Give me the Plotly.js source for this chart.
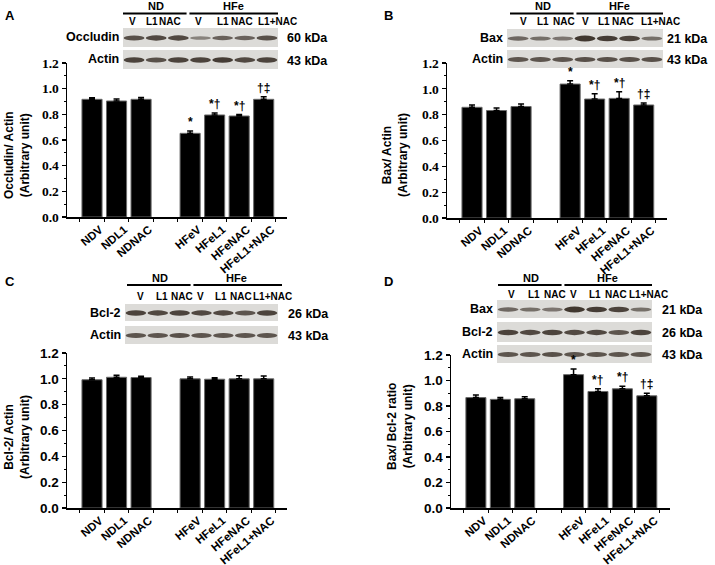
<!DOCTYPE html>
<html>
<head>
<meta charset="utf-8">
<script src="https://cdn.plot.ly/plotly-3.0.1.min.js"></script>
<style>html,body{margin:0;padding:0;background:#fff;}#chart{width:715px;height:565px;}</style>
</head>
<body>
<div id="chart"></div>
<script>
// ---------- data ----------
const categories = ['NDV','NDL1','NDNAC','HFeV','HFeL1','HFeNAC','HFeL1+NAC'];
const catPos = [0,1,2,4,5,6,7];
const laneLabels = ['V','L1','NAC','V','L1','NAC','L1+NAC'];

const occludinActin = [0.917,0.904,0.917,0.652,0.795,0.787,0.917];
const occludinErr   = [0.013,0.015,0.014,0.018,0.015,0.012,0.02];
const baxActin      = [0.857,0.832,0.863,1.037,0.921,0.926,0.875];
const baxErr        = [0.018,0.02,0.02,0.026,0.04,0.052,0.016];
const bcl2Actin     = [0.993,1.012,1.01,1.0,0.997,1.0,1.0];
const bcl2Err       = [0.014,0.016,0.01,0.014,0.012,0.024,0.022];
const baxBcl2Ratio  = [0.866,0.852,0.857,1.046,0.914,0.935,0.88];
const ratioErr      = [0.02,0.014,0.015,0.045,0.022,0.02,0.02];
const sigMarks      = ['','','','*','*†','*†','†‡'];
const noMarks       = ['','','','','','',''];

// band intensities of the blots (0..1)
const occludinBands = [0.75,0.8,0.8,0.35,0.6,0.6,0.75];
const actinBandsA   = [0.85,0.75,0.85,0.85,0.9,0.8,0.85];
const baxBands      = [0.55,0.5,0.45,0.95,0.9,0.85,0.5];
const actinBandsB   = [0.7,0.7,0.7,0.75,0.75,0.75,0.75];
const bcl2Bands     = [0.85,0.8,0.85,0.8,0.8,0.7,0.85];
const actinBandsC   = [0.7,0.7,0.75,0.7,0.7,0.7,0.7];

// ---------- helpers ----------
const W = 715, H = 565;
const px = x => x / W;
const py = y => 1 - y / H;
const SANS = "'Liberation Sans', Arial, sans-serif";
const SERIF = "'Liberation Serif', 'Times New Roman', serif";

const traces = [];
const annotations = [];
const shapes = [];
const layout = {
  width: W, height: H, margin: {l:0, r:0, t:0, b:0},
  paper_bgcolor: '#fff', plot_bgcolor: 'rgba(0,0,0,0)',
  showlegend: false, bargap: 0,
  annotations, shapes
};

function panel(idx, cfg) {
  const xa = idx === 1 ? 'xaxis' : 'xaxis' + idx;
  const ya = idx === 1 ? 'yaxis' : 'yaxis' + idx;
  const xr = idx === 1 ? 'x' : 'x' + idx;
  const yr = idx === 1 ? 'y' : 'y' + idx;
  traces.push({
    type: 'bar', x: catPos, y: cfg.values, xaxis: xr, yaxis: yr, width: 0.82,
    marker: {color: '#000', line: {color: '#6a6a6a', width: 1}},
    error_y: {type: 'data', symmetric: false, array: cfg.err, arrayminus: cfg.err.map(() => 0),
              color: '#000', thickness: 1.5, width: 3},
    hoverinfo: 'skip'
  });
  layout[xa] = {
    domain: [px(cfg.x0), px(cfg.x1)], anchor: yr, range: [-1.02, 7.95],
    showline: true, linecolor: '#000', linewidth: 1.5, showgrid: false, zeroline: false,
    tickvals: catPos, ticktext: categories, tickangle: -40, ticks: '',
    ticklabelshift: 8, ticklabelstandoff: 0,
    tickfont: {family: SANS, size: 11.5, color: '#000', weight: 'bold'},
    minor: {tickvals: [-0.5,0.5,1.5,2.5,3.5,4.5,5.5,6.5,7.5], ticks: 'outside', ticklen: 3, tickcolor: '#000', tickwidth: 1}
  };
  layout[ya] = {
    domain: [py(cfg.yBottom), py(cfg.yTop)], anchor: xr, range: [0, 1.2],
    showline: true, linecolor: '#000', linewidth: 1.5, showgrid: false, zeroline: false,
    tickvals: [0,0.2,0.4,0.6,0.8,1.0,1.2], tickformat: '.1f',
    ticks: 'outside', ticklen: 4, tickwidth: 1.2, tickcolor: '#000',
    tickfont: {family: cfg.tickFamily, size: 13.5, color: '#000', weight: 'bold'},
    minor: {dtick: 0.1, ticks: 'outside', ticklen: 2, tickcolor: '#000', tickwidth: 1}
  };
  // significance marks
  cfg.values.forEach((v, i) => {
    if (!cfg.marks[i]) return;
    annotations.push({
      xref: xr, yref: yr, x: catPos[i], y: v + cfg.err[i] + 0.006, xanchor: 'center', yanchor: 'bottom',
      text: cfg.marks[i], showarrow: false, borderpad: 0, opacity: 0.99,
      font: {family: SANS, size: 12, color: '#000', weight: 'bold'}
    });
  });
  // y title
  annotations.push({
    xref: 'paper', yref: 'paper', x: px(cfg.titleX), y: py(cfg.titleY), textangle: -90,
    text: cfg.title, showarrow: false, xanchor: 'center', yanchor: 'middle',
    font: {family: SANS, size: 12, color: '#000', weight: 'bold'}
  });
  // panel letter
  annotations.push({
    xref: 'paper', yref: 'paper', x: px(cfg.letterX), y: py(cfg.letterY), text: cfg.letter,
    showarrow: false, xanchor: 'center', yanchor: 'middle',
    font: {family: SANS, size: 13, color: '#000', weight: 'bold'}
  });
  // group header
  const g = cfg.header;
  shapes.push({type: 'line', xref: 'paper', yref: 'paper', x0: px(g.ndX0), x1: px(g.ndX1) - 0.002,
               y0: py(g.lineY), y1: py(g.lineY), line: {color: '#000', width: 2}});
  shapes.push({type: 'line', xref: 'paper', yref: 'paper', x0: px(g.ndX1) + 0.002, x1: px(g.hfeX1),
               y0: py(g.lineY), y1: py(g.lineY), line: {color: '#000', width: 2}});
  annotations.push({xref: 'paper', yref: 'paper', x: px((g.ndX0 + g.ndX1) / 2), y: py(g.lineY - 0.5),
    xanchor: 'center', yanchor: 'bottom', text: 'ND', showarrow: false, borderpad: 0,
    font: {family: SANS, size: 11, color: '#000', weight: 'bold'}});
  annotations.push({xref: 'paper', yref: 'paper', x: px((g.ndX1 + g.hfeX1) / 2), y: py(g.lineY - 0.5),
    xanchor: 'center', yanchor: 'bottom', text: 'HFe', showarrow: false, borderpad: 0,
    font: {family: SANS, size: 11, color: '#000', weight: 'bold'}});
  g.laneX.forEach((lx, i) => {
    annotations.push({xref: 'paper', yref: 'paper', x: px(lx), y: py(g.labelY), xanchor: 'center', yanchor: 'middle',
      text: laneLabels[i], showarrow: false, borderpad: 0,
      font: {family: SANS, size: 10, color: '#000', weight: 'bold'}});
  });
  // blots
  cfg.blots.forEach(b => {
    shapes.push({type: 'rect', xref: 'paper', yref: 'paper', x0: px(g.blotX0), x1: px(g.blotX1),
      y0: py(b.y1), y1: py(b.y0), fillcolor: '#dcdbd8', line: {width: 0}, layer: 'below'});
    const lw = (g.blotX1 - g.blotX0) / 7;
    const yc = (b.y0 + b.y1) / 2 + 0.5;
    b.bands.forEach((inten, i) => {
      const cx = g.blotX0 + lw * (i + 0.5);
      const hh = 1.2 + 1.8 * inten;
      shapes.push({type: 'circle', xref: 'paper', yref: 'paper',
        x0: px(cx - lw * 0.47), x1: px(cx + lw * 0.47), y0: py(yc + hh), y1: py(yc - hh),
        fillcolor: 'rgba(48,38,30,' + (0.25 + 0.7 * inten).toFixed(2) + ')', line: {width: 0}});
    });
    annotations.push({xref: 'paper', yref: 'paper', x: px(g.blotX0 - 2), y: py((b.y0 + b.y1) / 2),
      xanchor: 'right', yanchor: 'middle', text: b.name, showarrow: false,
      font: {family: SANS, size: 12.5, color: '#000', weight: 'bold'}});
    annotations.push({xref: 'paper', yref: 'paper', x: px(g.kdaX), y: py((b.y0 + b.y1) / 2 + 1),
      xanchor: 'left', yanchor: 'middle', text: b.kda, showarrow: false,
      font: {family: SANS, size: 12.5, color: '#000', weight: 'bold'}});
  });
}

panel(1, {
  values: occludinActin, err: occludinErr, marks: sigMarks, x0: 67, x1: 287, yTop: 63, yBottom: 217,
  tickFamily: SERIF, title: 'Occludin/ Actin<br>(Arbitrary unit)', titleX: 17, titleY: 155,
  letter: 'A', letterX: 10, letterY: 15,
  header: {ndX0: 123, ndX1: 188, hfeX1: 278, lineY: 13.5, labelY: 21,
           laneX: [132,152,170,198,223,242,277], blotX0: 123, blotX1: 278, kdaX: 285},
  blots: [{name: 'Occludin', kda: '60 kDa', y0: 28, y1: 47, bands: occludinBands},
          {name: 'Actin', kda: '43 kDa', y0: 50, y1: 69, bands: actinBandsA}]
});
panel(2, {
  values: baxActin, err: baxErr, marks: sigMarks, x0: 447, x1: 667, yTop: 63, yBottom: 218,
  tickFamily: SERIF, title: 'Bax/ Actin<br>(Arbitrary unit)', titleX: 395, titleY: 155,
  letter: 'B', letterX: 388, letterY: 15,
  header: {ndX0: 510, ndX1: 575, hfeX1: 663, lineY: 13.5, labelY: 21,
           laneX: [523,543,564,585,604,623,660], blotX0: 507, blotX1: 663, kdaX: 665},
  blots: [{name: 'Bax', kda: '21 kDa', y0: 29, y1: 47, bands: baxBands},
          {name: 'Actin', kda: '43 kDa', y0: 50, y1: 68, bands: actinBandsB}]
});
panel(3, {
  values: bcl2Actin, err: bcl2Err, marks: noMarks, x0: 67, x1: 287, yTop: 353, yBottom: 508,
  tickFamily: SANS, title: 'Bcl-2/ Actin<br>(Arbitrary unit)', titleX: 17, titleY: 437,
  letter: 'C', letterX: 10, letterY: 281,
  header: {ndX0: 127, ndX1: 192, hfeX1: 282, lineY: 285, labelY: 296,
           laneX: [140,162,182,200,221,241,272], blotX0: 125, blotX1: 278, kdaX: 286},
  blots: [{name: 'Bcl-2', kda: '26 kDa', y0: 304, y1: 321, bands: bcl2Bands},
          {name: 'Actin', kda: '43 kDa', y0: 326, y1: 344, bands: actinBandsC}]
});
panel(4, {
  values: baxBcl2Ratio, err: ratioErr, marks: sigMarks, x0: 451, x1: 670, yTop: 355, yBottom: 508,
  tickFamily: SANS, title: 'Bax/ Bcl-2 ratio<br>(Arbitrary unit)', titleX: 400, titleY: 427,
  letter: 'D', letterX: 388, letterY: 281,
  header: {ndX0: 498, ndX1: 563, hfeX1: 652, lineY: 285, labelY: 294,
           laneX: [511,534,555,573,595,616,648], blotX0: 497, blotX1: 652, kdaX: 660},
  blots: [{name: 'Bax', kda: '21 kDa', y0: 300, y1: 318, bands: baxBands},
          {name: 'Bcl-2', kda: '26 kDa', y0: 322, y1: 342, bands: bcl2Bands},
          {name: 'Actin', kda: '43 kDa', y0: 345, y1: 363, bands: actinBandsC}]
});

Plotly.newPlot('chart', traces, layout, {staticPlot: true, displayModeBar: false});
</script>
</body>
</html>
